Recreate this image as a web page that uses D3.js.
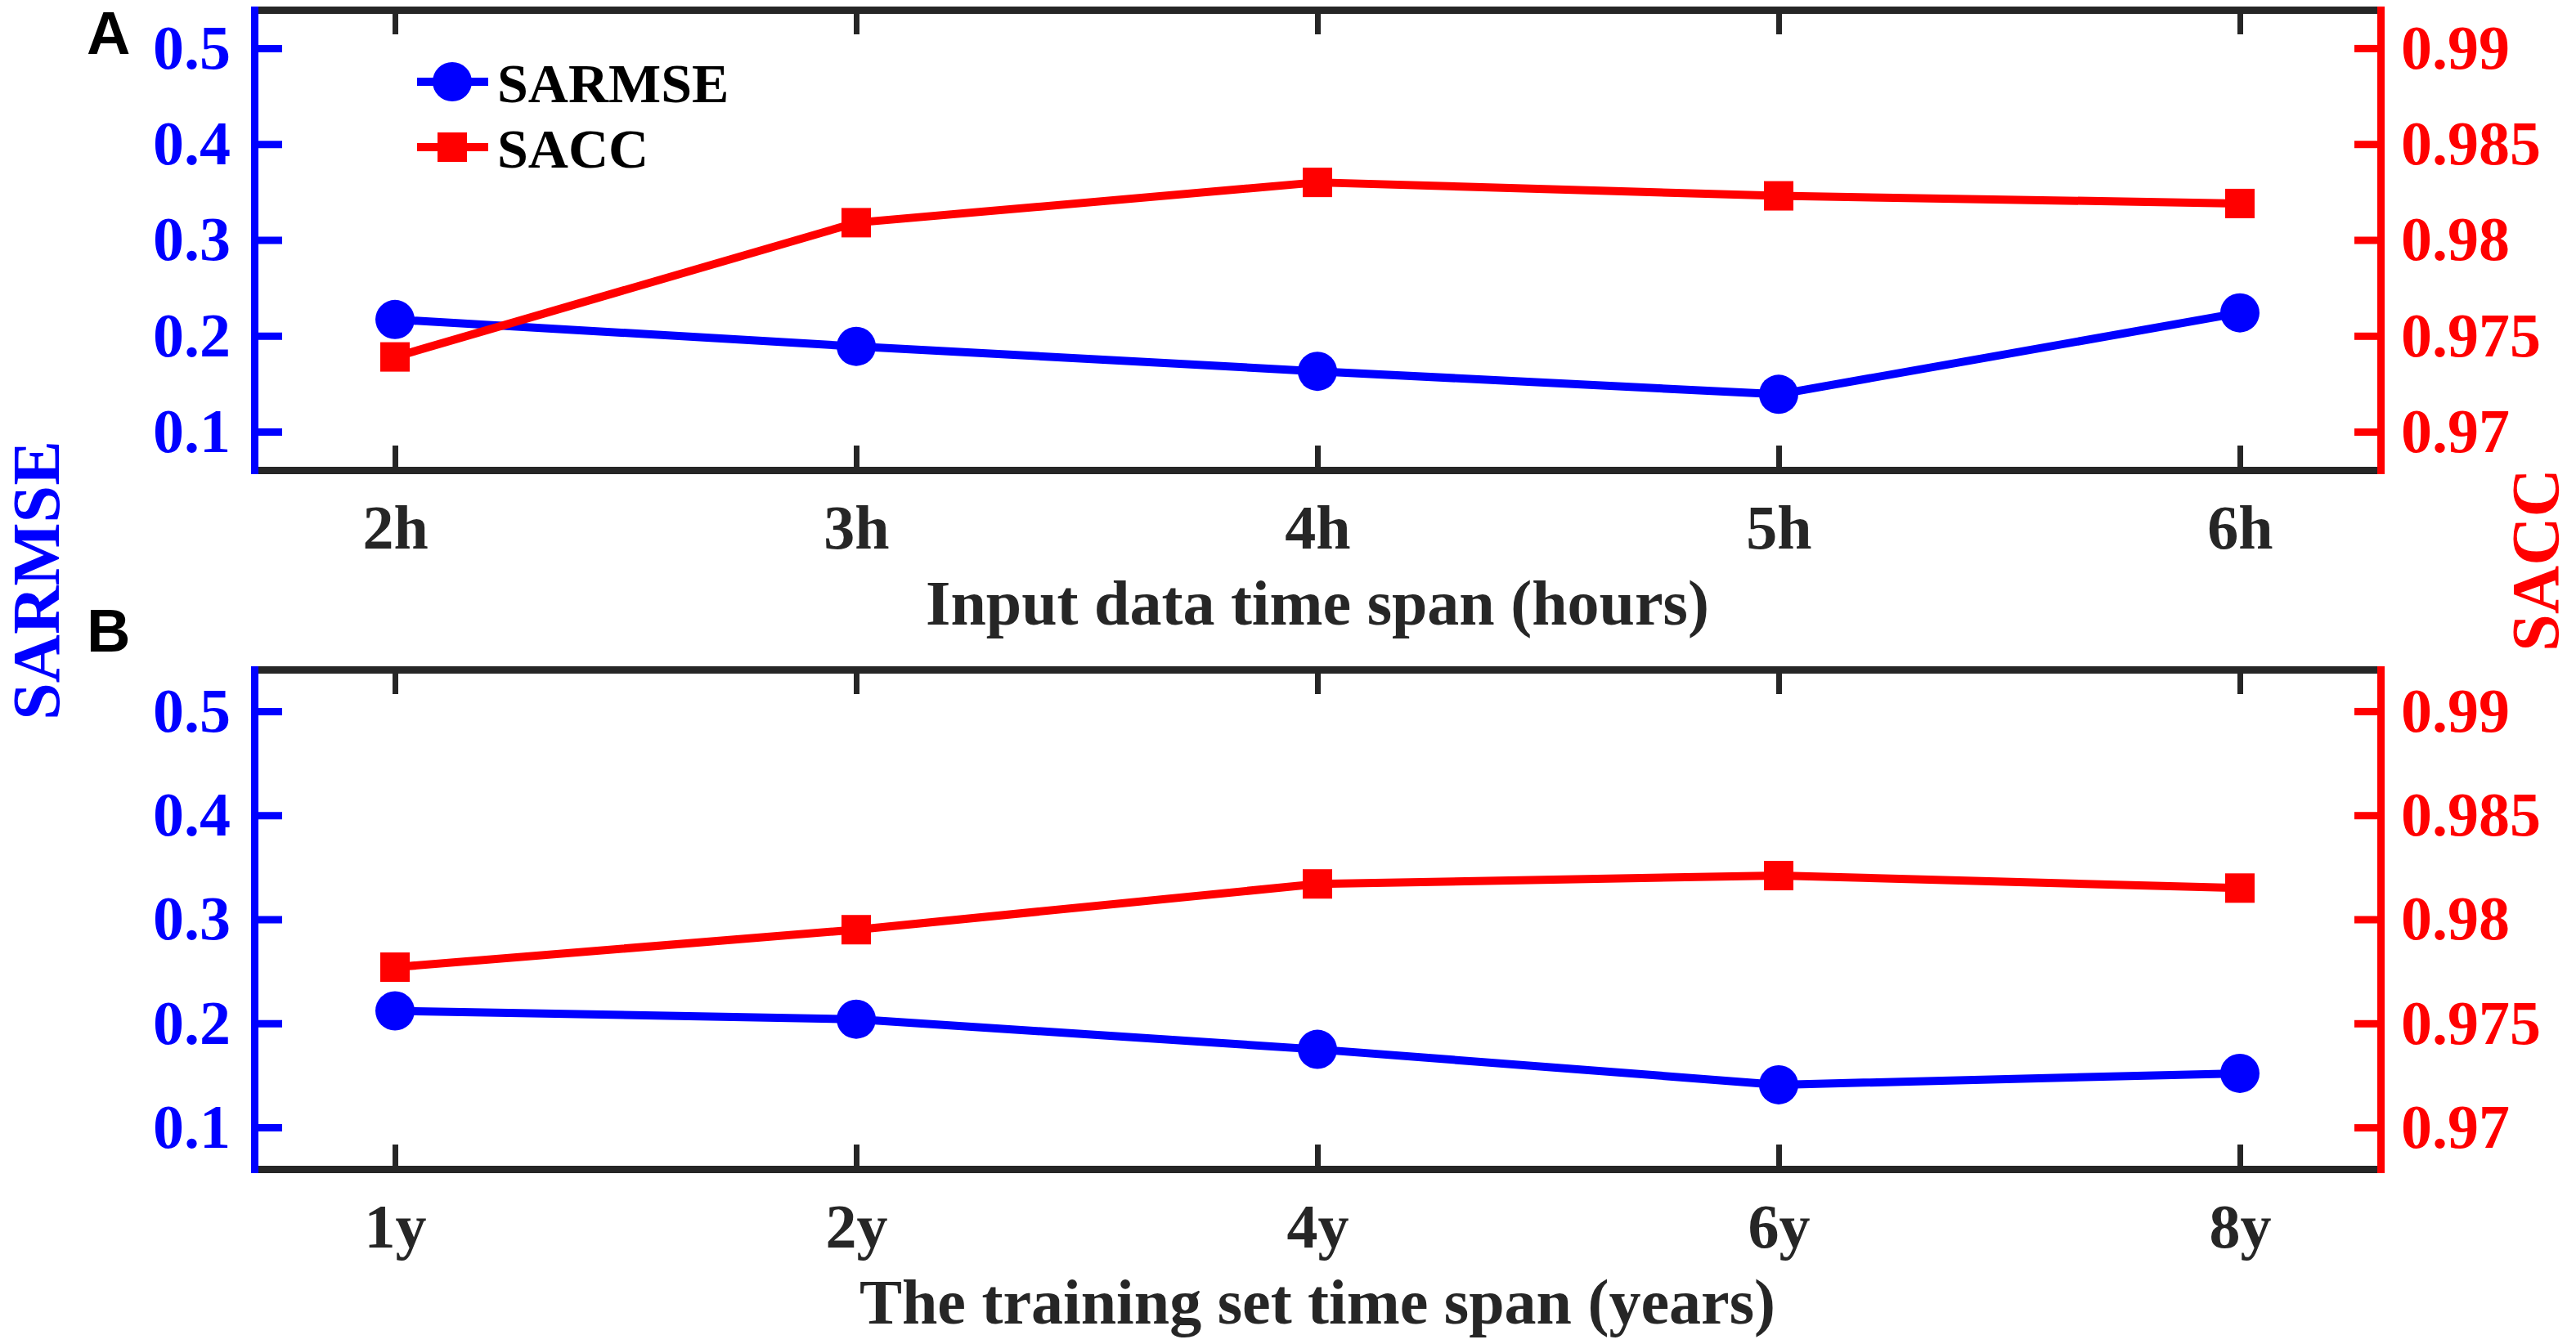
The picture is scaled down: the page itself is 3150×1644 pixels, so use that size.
<!DOCTYPE html>
<html>
<head>
<meta charset="utf-8">
<script src="https://cdn.jsdelivr.net/npm/d3@7"></script>
<style>
  body { margin: 0; background: #fff; }
</style>
</head>
<body>
<svg id="chart-area"></svg>
<script>
// data
var hourLabels = ['2h', '3h', '4h', '5h', '6h'];
var hourSarmse = [0.217, 0.189, 0.163, 0.139, 0.224];
var hourSacc = [0.9739, 0.9809, 0.9830, 0.9823, 0.9819];

var yearLabels = ['1y', '2y', '4y', '6y', '8y'];
var yearSarmse = [0.212, 0.204, 0.175, 0.141, 0.152];
var yearSacc = [0.9777, 0.9795, 0.9817, 0.9821, 0.9815];

var sarmseTicks = [0.1, 0.2, 0.3, 0.4, 0.5];
var saccTicks = [0.97, 0.975, 0.98, 0.985, 0.99];

var svgWidth = 3150;
var svgHeight = 1644;
var left = 311, right = 2911;
var blue = '#0000ff', red = '#ff0000', dark = '#262626';
var serif = '"Liberation Serif", "Times New Roman", serif';

var svg = d3.select('#chart-area')
  .attr('width', svgWidth)
  .attr('height', svgHeight);

var panels = [
  { letter: 'A', letterY: 66, top: 12, bottom: 575, cats: hourLabels,
    sarmse: hourSarmse, sacc: hourSacc, title: 'Input data time span (hours)' },
  { letter: 'B', letterY: 797, top: 819, bottom: 1430, cats: yearLabels,
    sarmse: yearSarmse, sacc: yearSacc, title: 'The training set time span (years)' }
];

function styleAxis(a, color, width) {
  a.attr('font-family', serif).attr('font-size', 76).attr('font-weight', 'bold');
  a.select('.domain').attr('stroke', color).attr('stroke-width', 9)
    .attr('stroke-linecap', 'square');
  a.selectAll('.tick line').attr('stroke', color).attr('stroke-width', width);
  a.selectAll('.tick text').attr('fill', color);
}

panels.forEach(function(p) {
  var x = d3.scalePoint().domain(p.cats).range([left, right]).padding(0.305);
  var yL = d3.scaleLinear().domain([0.06, 0.54]).range([p.bottom, p.top]);
  var yR = d3.scaleLinear().domain([0.968, 0.992]).range([p.bottom, p.top]);

  var g = svg.append('g');

  // top and bottom (black)
  var topAx = g.append('g')
    .attr('transform', 'translate(0,' + p.top + ')')
    .call(d3.axisTop(x).tickSizeInner(-30).tickSizeOuter(0).tickFormat(''));
  styleAxis(topAx, dark, 7);

  var botAx = g.append('g')
    .attr('transform', 'translate(0,' + p.bottom + ')')
    .call(d3.axisBottom(x).tickSizeInner(-30).tickSizeOuter(0));
  styleAxis(botAx, dark, 7);
  botAx.selectAll('.tick text').attr('y', 96).attr('dy', null);

  // left SARMSE axis
  var leftAx = g.append('g')
    .attr('transform', 'translate(' + left + ',0)')
    .call(d3.axisLeft(yL).tickValues(sarmseTicks).tickSizeInner(-34).tickSizeOuter(0)
      .tickPadding(29).tickFormat(function(d) { return String(d); }));
  styleAxis(leftAx, blue, 9);

  // right SACC axis
  var rightAx = g.append('g')
    .attr('transform', 'translate(' + right + ',0)')
    .call(d3.axisRight(yR).tickValues(saccTicks).tickSizeInner(-32).tickSizeOuter(0)
      .tickPadding(25).tickFormat(function(d) { return String(d); }));
  styleAxis(rightAx, red, 9);

  // x title
  g.append('text')
    .attr('x', (left + right) / 2)
    .attr('y', p.bottom + 189)
    .attr('text-anchor', 'middle')
    .attr('font-family', serif).attr('font-size', 78).attr('font-weight', 'bold')
    .attr('fill', dark)
    .text(p.title);

  // panel letter
  g.append('text')
    .attr('x', 106).attr('y', p.letterY)
    .attr('font-family', '"Liberation Sans", Arial, sans-serif')
    .attr('font-size', 74).attr('font-weight', 'bold')
    .text(p.letter);

  // SARMSE line + circles
  var lineL = d3.line()
    .x(function(d, i) { return x(p.cats[i]); })
    .y(function(d) { return yL(d); });
  g.append('path').datum(p.sarmse)
    .attr('d', lineL).attr('fill', 'none')
    .attr('stroke', blue).attr('stroke-width', 10).attr('stroke-linejoin', 'round');
  g.selectAll('.dotL').data(p.sarmse).enter()
    .append('circle')
    .attr('cx', function(d, i) { return x(p.cats[i]); })
    .attr('cy', function(d) { return yL(d); })
    .attr('r', 24).attr('fill', blue);

  // SACC line + squares
  var lineR = d3.line()
    .x(function(d, i) { return x(p.cats[i]); })
    .y(function(d) { return yR(d); });
  g.append('path').datum(p.sacc)
    .attr('d', lineR).attr('fill', 'none')
    .attr('stroke', red).attr('stroke-width', 10).attr('stroke-linejoin', 'round');
  g.selectAll('.sqR').data(p.sacc).enter()
    .append('rect')
    .attr('x', function(d, i) { return x(p.cats[i]) - 18; })
    .attr('y', function(d) { return yR(d) - 18; })
    .attr('width', 36).attr('height', 36).attr('fill', red);
});

// shared y titles
svg.append('text')
  .attr('transform', 'translate(72,710) rotate(-90)')
  .attr('text-anchor', 'middle')
  .attr('font-family', serif).attr('font-size', 82).attr('font-weight', 'bold')
  .attr('fill', blue).text('SARMSE');

svg.append('text')
  .attr('transform', 'translate(3128,685) rotate(-90)')
  .attr('text-anchor', 'middle')
  .attr('font-family', serif).attr('font-size', 82).attr('font-weight', 'bold')
  .attr('fill', red).text('SACC');

// legend (panel A)
var legend = svg.append('g');
var legendItems = [
  { name: 'SARMSE', color: blue, shape: 'circle', y: 100 },
  { name: 'SACC', color: red, shape: 'square', y: 180 }
];
legendItems.forEach(function(item) {
  legend.append('line')
    .attr('x1', 510).attr('x2', 597).attr('y1', item.y).attr('y2', item.y)
    .attr('stroke', item.color).attr('stroke-width', 10);
  if (item.shape === 'circle') {
    legend.append('circle').attr('cx', 553).attr('cy', item.y).attr('r', 24)
      .attr('fill', item.color);
  } else {
    legend.append('rect').attr('x', 535).attr('y', item.y - 18)
      .attr('width', 36).attr('height', 36).attr('fill', item.color);
  }
  legend.append('text')
    .attr('x', 608).attr('y', item.y + 25)
    .attr('font-family', serif).attr('font-size', 68).attr('font-weight', 'bold')
    .attr('fill', '#000').text(item.name);
});
</script>
</body>
</html>
